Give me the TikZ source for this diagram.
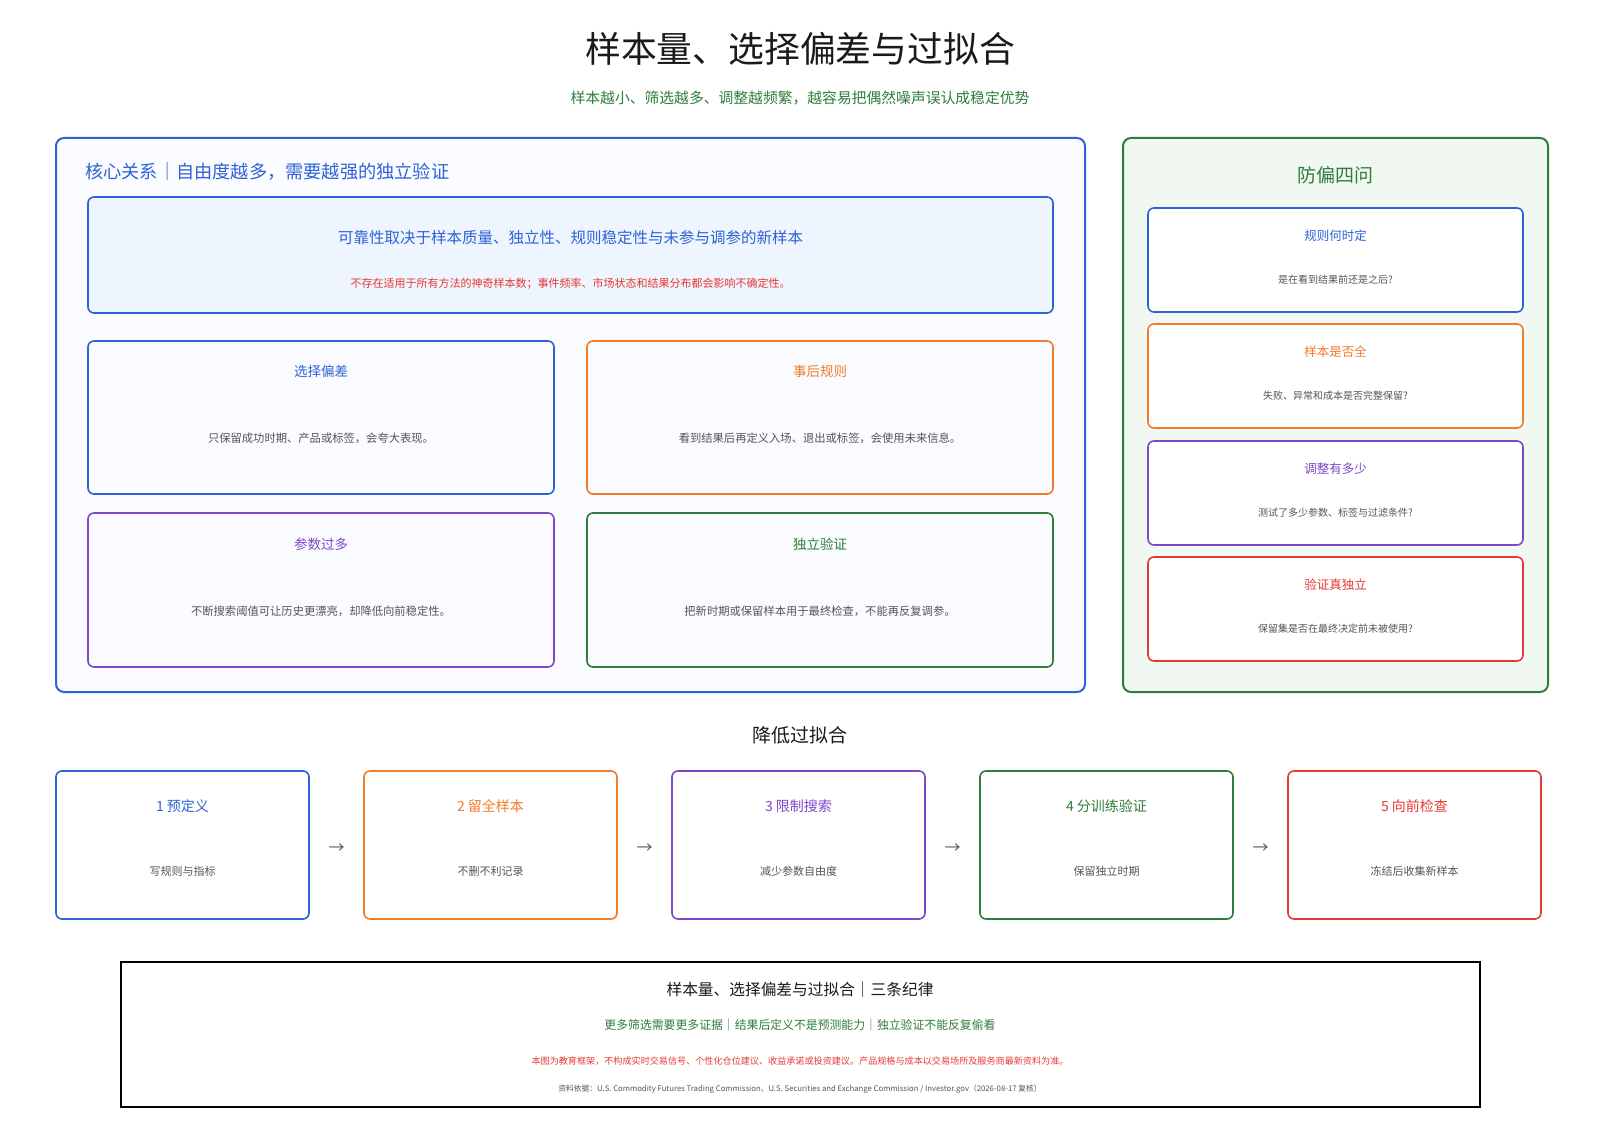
\documentclass[tikz,border=0pt]{standalone}
\usepackage{fontspec}
\setmainfont{Noto Sans CJK SC}
\definecolor{cblue}{HTML}{2F62D6}
\definecolor{corange}{HTML}{F47B2A}
\definecolor{cpurple}{HTML}{7E47C9}
\definecolor{cgreen}{HTML}{2E7D3A}
\definecolor{cred}{HTML}{E53935}
\definecolor{cgray}{HTML}{555555}
\definecolor{ctitle}{HTML}{1A1A1A}
\definecolor{coreFill}{HTML}{FBFCFF}
\definecolor{topFill}{HTML}{EEF5FE}
\definecolor{cardFill}{HTML}{F9FBFE}
\definecolor{panelFill}{HTML}{F1F8F1}
\newcommand\myfs[1]{\fontsize{#1}{#1}\selectfont}
\tikzset{
  frame/.style={draw, line width=2pt, rounded corners=8pt, inner sep=0pt},
  card/.style={draw, line width=1.6pt, rounded corners=6pt, inner sep=0pt},
  lbl/.style={inner sep=0pt, anchor=center},
}
\begin{document}
\begin{tikzpicture}[x=1pt,y=-1pt]
\fill[white] (0,0) rectangle (1600,1131);
\useasboundingbox (0,0) rectangle (1600,1131);

% title
\node[lbl, text=ctitle] (title) at (800,49) {\myfs{35.8}样本量、选择偏差与过拟合};
\node[lbl, text=cgreen] (subtitle) at (800,98) {\myfs{14.8}样本越小、筛选越多、调整越频繁，越容易把偶然噪声误认成稳定优势};

% core box
\node[frame, draw=cblue, fill=coreFill, minimum width=1029pt, minimum height=554pt] (core) at (570.5,415) {};
\node[lbl, anchor=west, text=cblue] (corehead) at (85,172) {\myfs{18.2}核心关系｜自由度越多，需要越强的独立验证};

\node[card, draw=cblue, fill=topFill, minimum width=965pt, minimum height=116pt] (topbox) at (570.5,255) {};
\node[lbl, text=cblue] (topmain) at (570.5,238) {\myfs{15.5}可靠性取决于样本质量、独立性、规则稳定性与未参与调参的新样本};
\node[lbl, text=cred] (topred) at (570.5,284) {\myfs{11}不存在适用于所有方法的神奇样本数；事件频率、市场状态和结果分布都会影响不确定性。};

% grid cards
\node[card, draw=cblue, fill=cardFill, minimum width=466pt, minimum height=153pt] (g1) at (321,417.5) {};
\node[lbl, text=cblue] at (321,371) {\myfs{13.5}选择偏差};
\node[lbl, text=cgray] at (321,438) {\myfs{11.3}只保留成功时期、产品或标签，会夸大表现。};

\node[card, draw=corange, fill=cardFill, minimum width=466pt, minimum height=153pt] (g2) at (820,417.5) {};
\node[lbl, text=corange] at (820,371) {\myfs{13.5}事后规则};
\node[lbl, text=cgray] at (820,438) {\myfs{11.3}看到结果后再定义入场、退出或标签，会使用未来信息。};

\node[card, draw=cpurple, fill=cardFill, minimum width=466pt, minimum height=154pt] (g3) at (321,590) {};
\node[lbl, text=cpurple] at (321,544) {\myfs{13.5}参数过多};
\node[lbl, text=cgray] at (321,611) {\myfs{11.3}不断搜索阈值可让历史更漂亮，却降低向前稳定性。};

\node[card, draw=cgreen, fill=cardFill, minimum width=466pt, minimum height=154pt] (g4) at (820,590) {};
\node[lbl, text=cgreen] at (820,544) {\myfs{13.5}独立验证};
\node[lbl, text=cgray] at (820,611) {\myfs{11.3}把新时期或保留样本用于最终检查，不能再反复调参。};

% right panel
\node[frame, draw=cgreen, fill=panelFill, minimum width=425pt, minimum height=554pt] (panel) at (1335.5,415) {};
\node[lbl, text=cgreen] (paneltitle) at (1335.5,175) {\myfs{19}防偏四问};

\node[card, draw=cblue, fill=white, minimum width=375pt, minimum height=104pt] (q1) at (1335.5,260) {};
\node[lbl, text=cblue] at (1335.5,236) {\myfs{12.5}规则何时定};
\node[lbl, text=cgray] at (1335.5,280) {\myfs{10}是在看到结果前还是之后?};

\node[card, draw=corange, fill=white, minimum width=375pt, minimum height=104pt] (q2) at (1335.5,376) {};
\node[lbl, text=corange] at (1335.5,352) {\myfs{12.5}样本是否全};
\node[lbl, text=cgray] at (1335.5,396) {\myfs{10}失败、异常和成本是否完整保留?};

\node[card, draw=cpurple, fill=white, minimum width=375pt, minimum height=104pt] (q3) at (1335.5,493) {};
\node[lbl, text=cpurple] at (1335.5,469) {\myfs{12.5}调整有多少};
\node[lbl, text=cgray] at (1335.5,513) {\myfs{10}测试了多少参数、标签与过滤条件?};

\node[card, draw=cred, fill=white, minimum width=375pt, minimum height=104pt] (q4) at (1335.5,609) {};
\node[lbl, text=cred] at (1335.5,585) {\myfs{12.5}验证真独立};
\node[lbl, text=cgray] at (1335.5,629) {\myfs{10}保留集是否在最终决定前未被使用?};

% steps
\node[lbl, text=ctitle] (stepshead) at (800,735) {\myfs{19}降低过拟合};

\node[card, draw=cblue, fill=white, minimum width=253pt, minimum height=148pt] (s1) at (182.5,845) {};
\node[lbl, text=cblue] at (182.5,806) {\myfs{14}1 预定义};
\node[lbl, text=cgray] at (182.5,871) {\myfs{11}写规则与指标};

\node[card, draw=corange, fill=white, minimum width=253pt, minimum height=148pt] (s2) at (490.5,845) {};
\node[lbl, text=corange] at (490.5,806) {\myfs{14}2 留全样本};
\node[lbl, text=cgray] at (490.5,871) {\myfs{11}不删不利记录};

\node[card, draw=cpurple, fill=white, minimum width=253pt, minimum height=148pt] (s3) at (798.5,845) {};
\node[lbl, text=cpurple] at (798.5,806) {\myfs{14}3 限制搜索};
\node[lbl, text=cgray] at (798.5,871) {\myfs{11}减少参数自由度};

\node[card, draw=cgreen, fill=white, minimum width=253pt, minimum height=148pt] (s4) at (1106.5,845) {};
\node[lbl, text=cgreen] at (1106.5,806) {\myfs{14}4 分训练验证};
\node[lbl, text=cgray] at (1106.5,871) {\myfs{11}保留独立时期};

\node[card, draw=cred, fill=white, minimum width=253pt, minimum height=148pt] (s5) at (1414.5,845) {};
\node[lbl, text=cred] at (1414.5,806) {\myfs{14}5 向前检查};
\node[lbl, text=cgray] at (1414.5,871) {\myfs{11}冻结后收集新样本};

\foreach \a/\b in {s1/s2,s2/s3,s3/s4,s4/s5}{
  \path (\a.east) -- (\b.west) node[midway, lbl, yshift=-4pt, text=cgray] {\myfs{16}→};
}

% bottom box
\node[draw=black, line width=2pt, minimum width=1359pt, minimum height=145pt, inner sep=0pt] (bottom) at (800.5,1034.5) {};
\node[lbl, text=ctitle] at (800,990) {\myfs{15.7}样本量、选择偏差与过拟合｜三条纪律};
\node[lbl, text=cgreen] at (800,1025) {\myfs{11.85}更多筛选需要更多证据｜结果后定义不是预测能力｜独立验证不能反复偷看};
\node[lbl, text=cred] at (800,1061) {\myfs{9.1}本图为教育框架，不构成实时交易信号、个性化仓位建议、收益承诺或投资建议。产品规格与成本以交易场所及服务商最新资料为准。};
\node[lbl, text=cgray] at (800,1089) {\myfs{7.75}资料依据：U.S. Commodity Futures Trading Commission、U.S. Securities and Exchange Commission / Investor.gov（2026-08-17 复核）};
\end{tikzpicture}
\end{document}
